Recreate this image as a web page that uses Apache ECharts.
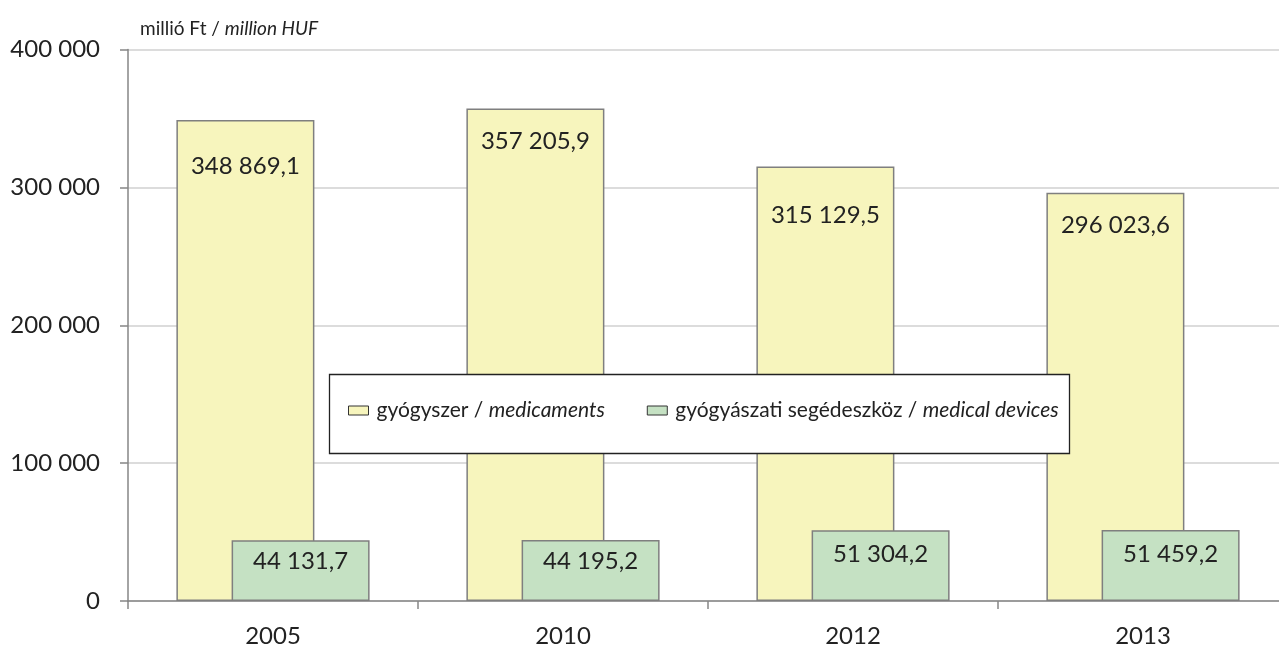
<!DOCTYPE html>
<html>
<head>
<meta charset="utf-8">
<script src="https://cdn.jsdelivr.net/npm/echarts@6/dist/echarts.min.js"></script>
<style>
  html, body { margin: 0; padding: 0; background: #fff; overflow: hidden; }
  #chart { width: 1288px; height: 648px; }
</style>
</head>
<body>
<div id="chart"></div>
<script>
const years = ['2005', '2010', '2012', '2013']
const medicaments = [348869.1, 357205.9, 315129.5, 296023.6]
const devices = [44131.7, 44195.2, 51304.2, 51459.2]
const seriesNames = ['gyógyszer / medicaments', 'gyógyászati segédeszköz / medical devices']
const yTicks = [0, 100000, 200000, 300000, 400000]

// how far below the bar top each label sits (px), as in the original
const medLabelDrop = [46, 33, 49, 32]
const devLabelDrop = [21, 21, 24, 24]

const FONT = 'Lato'

function fmtThousands(v) {
  return String(Math.round(v)).replace(/\B(?=(\d{3})+(?!\d))/g, ' ')
}
function fmtValue(v) {
  const parts = v.toFixed(1).split('.')
  return parts[0].replace(/\B(?=(\d{3})+(?!\d))/g, ' ') + ',' + parts[1]
}

const labelBase = {
  show: true,
  align: 'center',
  verticalAlign: 'middle',
  color: '#222',
  fontFamily: FONT,
  fontSize: 24,
  formatter: p => fmtValue(p.value)
}

const chart = echarts.init(document.getElementById('chart'))

const option = {
  animation: false,
  textStyle: { fontFamily: FONT },
  title: {
    text: '{a|millió Ft / }{b|million HUF}',
    left: 135,
    top: 14,
    textStyle: {
      fontSize: 19,
      fontWeight: 'normal',
      rich: {
        a: { fontFamily: FONT, fontSize: 19, fontWeight: 'normal', color: '#222' },
        b: { fontFamily: FONT, fontSize: 19, fontWeight: 'normal', color: '#222', fontStyle: 'italic' }
      }
    }
  },
  // the original is cropped on the right, so the plot runs past the page edge
  grid: { left: 128, top: 49.5, right: 0, bottom: 47 },
  graphic: [{
    type: 'rect',
    z: 3,
    shape: { x: 329.5, y: 374.5, width: 740, height: 79 },
    style: { fill: '#fff', stroke: '#222', lineWidth: 1.3 }
  }],
  legend: {
    left: 343,
    top: 395,
    z: 5,
    itemWidth: 20,
    itemHeight: 9,
    itemGap: 42,
    icon: 'rect',
    itemStyle: { borderColor: '#333', borderWidth: 1 },
    formatter: name => {
      const p = name.split(' / ')
      return '{a|' + p[0] + ' / }{b|' + p[1] + '}'
    },
    textStyle: {
      fontSize: 21,
      rich: {
        a: { fontFamily: FONT, fontSize: 21, color: '#222', padding: [0, 0, 0, 3] },
        b: { fontFamily: FONT, fontSize: 21, color: '#222', fontStyle: 'italic' }
      }
    },
    data: seriesNames
  },
  xAxis: {
    type: 'category',
    data: years,
    axisLine: { lineStyle: { color: '#868686', width: 1.5 } },
    axisTick: { show: true, length: 8, lineStyle: { color: '#868686', width: 1.5 } },
    axisLabel: { color: '#222', fontFamily: FONT, fontSize: 24, margin: 23 }
  },
  yAxis: {
    type: 'value',
    min: yTicks[0],
    max: yTicks[yTicks.length - 1],
    interval: yTicks[1] - yTicks[0],
    axisLine: { show: true, lineStyle: { color: '#868686', width: 1.5 } },
    axisTick: { show: true, length: 8, lineStyle: { color: '#868686', width: 1.5 } },
    splitLine: { lineStyle: { color: '#d0d0d0', width: 1.5 } },
    axisLabel: {
      color: '#222',
      fontFamily: FONT,
      fontSize: 24,
      margin: 28,
      formatter: v => fmtThousands(v)
    }
  },
  series: [
    {
      name: seriesNames[0],
      type: 'bar',
      barWidth: 138,
      barGap: '-60%',
      itemStyle: { color: '#F7F5BD', borderColor: '#7f7f7f', borderWidth: 1.5 },
      label: labelBase,
      data: medicaments.map((v, i) => ({ value: v, label: { position: ['50%', medLabelDrop[i]] } }))
    },
    {
      name: seriesNames[1],
      type: 'bar',
      barWidth: 138,
      barGap: '-60%',
      itemStyle: { color: '#C5E1C3', borderColor: '#7f7f7f', borderWidth: 1.5 },
      label: labelBase,
      data: devices.map((v, i) => ({ value: v, label: { position: ['50%', devLabelDrop[i]] } }))
    }
  ]
}

chart.setOption(option)
</script>
</body>
</html>
